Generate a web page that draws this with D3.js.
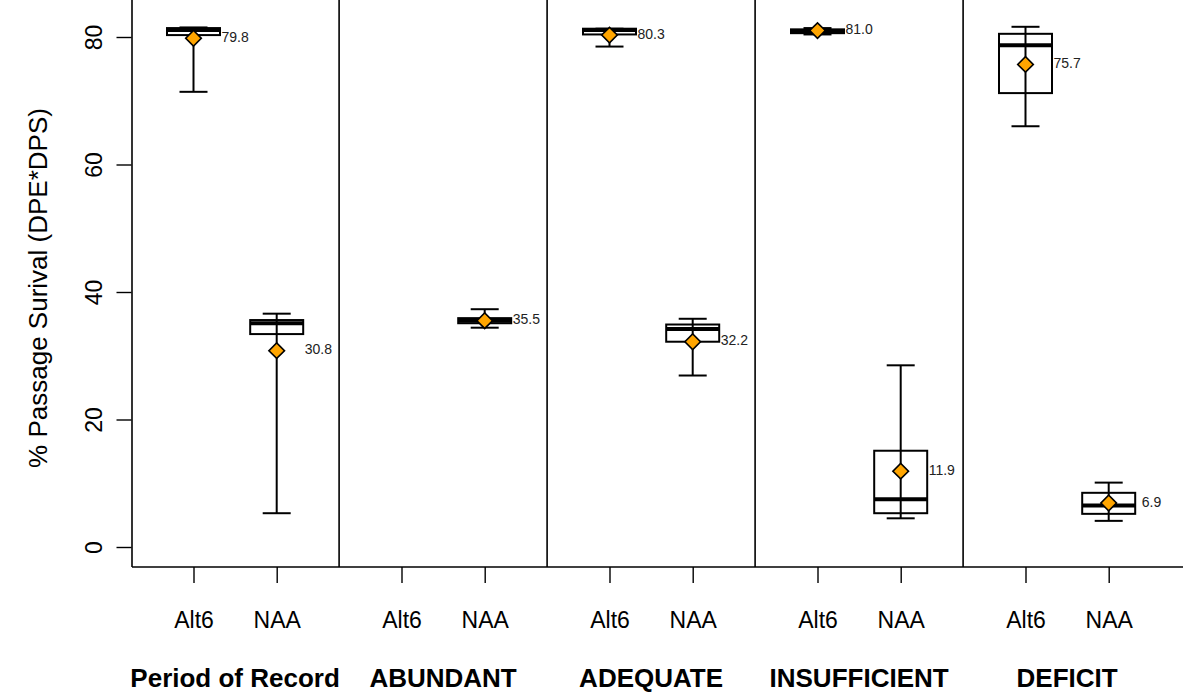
<!DOCTYPE html>
<html lang="en">
<head>
<meta charset="UTF-8">
<title>% Passage Survival</title>
<script src="https://cdn.jsdelivr.net/npm/d3@7"></script>
<style>
  body { margin: 0; background: #fff; }
  text { font-family: "Liberation Sans", Arial, sans-serif; }
</style>
</head>
<body>
<svg width="1183" height="693"></svg>
<script>
// data
var groups = ["Period of Record", "ABUNDANT", "ADEQUATE", "INSUFFICIENT", "DEFICIT"];
var scenarios = ["Alt6", "NAA"];
// one entry per box, order: group x scenario (null = no data)
var whiskerLow  = [71.4,  5.3, null, 34.4, 78.5, 26.9, 80.4,  4.5, 66.0,  4.1];
var q1          = [80.3, 33.4, null, 35.1, 80.4, 32.2, 80.6,  5.3, 71.2,  5.2];
var median      = [81.1, 35.1, null, 35.5, 81.1, 34.2, 80.9,  7.5, 78.7,  6.5];
var q3          = [81.4, 35.6, null, 35.9, 81.3, 34.9, 81.2, 15.1, 80.5,  8.5];
var whiskerHigh = [81.5, 36.6, null, 37.3, 81.3, 35.8, 81.4, 28.5, 81.6, 10.1];
var means       = [79.8, 30.8, null, 35.5, 80.3, 32.2, 81.0, 11.9, 75.7,  6.9];
var yTicks = [0, 20, 40, 60, 80];

var svg = d3.select("svg");
var left = 132, bottom = 567;

// box positions like R boxplot "at": 1,2, 3.5,4.5, ...
var at = [];
groups.forEach(function (g, i) {
    at.push(1 + i * 2.5, 2 + i * 2.5);
});

var x = d3.scaleLinear().domain([1, 12]).range([193.5, 1108.7]);
var y = d3.scaleLinear().domain([0, 80]).range([547, 37]);

var boxes = at.map(function (p, i) {
    return {
        pos: p, group: groups[Math.floor(i / 2)], scen: scenarios[i % 2],
        lo: whiskerLow[i], q1: q1[i], med: median[i], q3: q3[i], hi: whiskerHigh[i], mean: means[i]
    };
});

// frame: left and bottom lines (top/right lie outside the picture)
svg.append("line").attr("x1", left).attr("x2", left).attr("y1", -5).attr("y2", bottom)
    .attr("stroke", "#000").attr("stroke-width", 1.6);
svg.append("line").attr("x1", left).attr("x2", 1190).attr("y1", bottom).attr("y2", bottom)
    .attr("stroke", "#000").attr("stroke-width", 1.6);

// group separators
groups.slice(1).forEach(function (g, i) {
    var sx = x(2 + i * 2.5 + 0.75);
    svg.append("line").attr("x1", sx).attr("x2", sx).attr("y1", -5).attr("y2", bottom)
        .attr("stroke", "#000").attr("stroke-width", 1.6);
});

// y axis
var yAxis = d3.axisLeft(y).tickValues(yTicks).tickSize(15).tickSizeOuter(0).tickPadding(0);
var ga = svg.append("g").attr("transform", "translate(" + (left - 0.5) + ",0)").call(yAxis);
ga.select(".domain").remove();
ga.selectAll(".tick line").attr("stroke-width", 1.4);
ga.selectAll(".tick text")
    .attr("x", null).attr("dy", null)
    .attr("transform", "translate(-30,0) rotate(-90)")
    .attr("text-anchor", "middle")
    .style("font-size", "23px").attr("fill", "#000");

svg.append("text")
    .attr("transform", "translate(47," + 288 + ") rotate(-90)")
    .attr("text-anchor", "middle")
    .style("font-size", "26px")
    .text("% Passage Surival (DPE*DPS)");

// x axis ticks + labels
var xAxis = d3.axisBottom(x).tickValues(at).tickSize(16).tickSizeOuter(0)
    .tickFormat(function (d, i) { return scenarios[i % 2]; });
var gx = svg.append("g").attr("transform", "translate(0," + bottom + ")").call(xAxis);
gx.select(".domain").remove();
gx.selectAll(".tick line").attr("stroke-width", 1.4);
gx.selectAll(".tick text").attr("y", 61).attr("dy", null)
    .style("font-size", "23px").attr("fill", "#000");

// group labels
svg.selectAll(".grp").data(groups).enter().append("text")
    .attr("class", "grp")
    .attr("x", function (d, i) { return x(1.5 + i * 2.5); })
    .attr("y", 687)
    .attr("text-anchor", "middle")
    .style("font-size", "26px").style("font-weight", "bold")
    .text(function (d) { return d; });

// boxes
var bw = 53, cw = 28, lw = 2;
var bg = svg.selectAll(".box").data(boxes.filter(function (b) { return b.med !== null; }))
    .enter().append("g").attr("class", "box")
    .attr("transform", function (d) { return "translate(" + x(d.pos) + ",0)"; });

bg.append("line").attr("y1", function (d) { return y(d.hi); }).attr("y2", function (d) { return y(d.lo); })
    .attr("stroke", "#000").attr("stroke-width", lw);
bg.append("line").attr("x1", -cw / 2).attr("x2", cw / 2)
    .attr("y1", function (d) { return y(d.hi); }).attr("y2", function (d) { return y(d.hi); })
    .attr("stroke", "#000").attr("stroke-width", lw);
bg.append("line").attr("x1", -cw / 2).attr("x2", cw / 2)
    .attr("y1", function (d) { return y(d.lo); }).attr("y2", function (d) { return y(d.lo); })
    .attr("stroke", "#000").attr("stroke-width", lw);
bg.append("rect").attr("x", -bw / 2).attr("width", bw)
    .attr("y", function (d) { return y(d.q3); })
    .attr("height", function (d) { return y(d.q1) - y(d.q3); })
    .attr("fill", "#fff").attr("stroke", "#000").attr("stroke-width", lw);
bg.append("line").attr("x1", -bw / 2).attr("x2", bw / 2)
    .attr("y1", function (d) { return y(d.med); }).attr("y2", function (d) { return y(d.med); })
    .attr("stroke", "#000").attr("stroke-width", 4);
// whisker line also runs through the box
bg.append("line").attr("y1", function (d) { return y(d.q3); }).attr("y2", function (d) { return y(d.q1); })
    .attr("stroke", "#000").attr("stroke-width", lw);

// mean diamonds
var diamond = d3.symbol().type(d3.symbolSquare).size(122);
bg.append("path").attr("d", diamond)
    .attr("transform", function (d) { return "translate(0," + y(d.mean) + ") rotate(45)"; })
    .attr("fill", "#FFA500").attr("stroke", "#000").attr("stroke-width", 1.6);

bg.append("text")
    .attr("x", function (d) { return d.mean < 10 ? 33 : 28; })
    .attr("y", function (d) { return y(d.mean); })
    .attr("dominant-baseline", "middle")
    .style("font-size", "14px").attr("fill", "#222")
    .text(function (d) { return d.mean.toFixed(1); });
</script>
</body>
</html>
